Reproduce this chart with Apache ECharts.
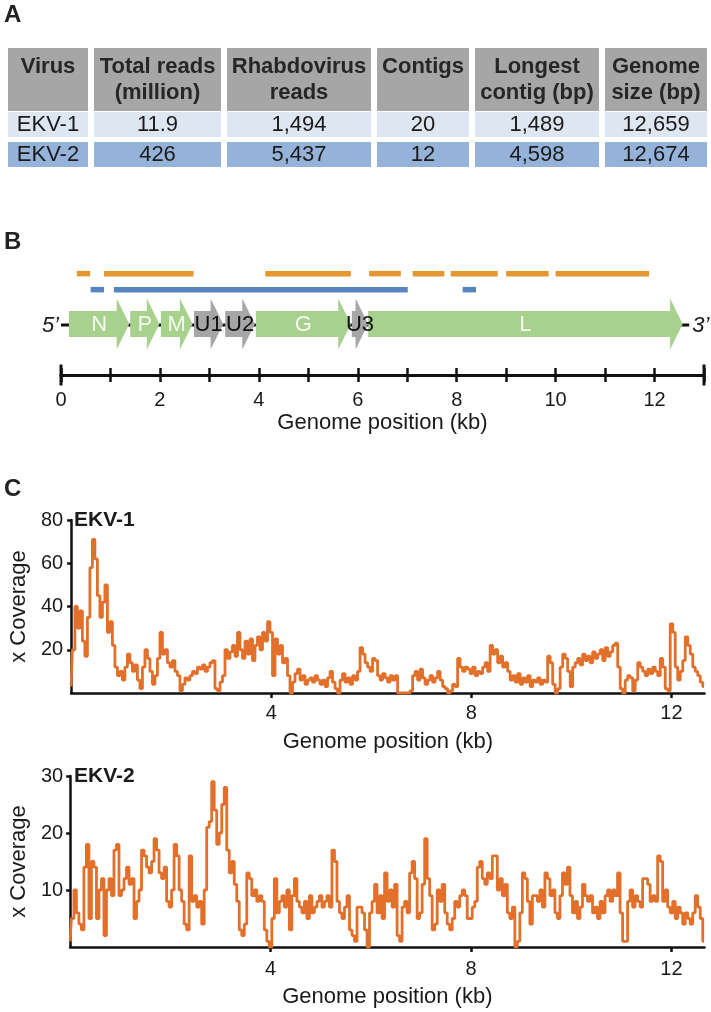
<!DOCTYPE html>
<html><head><meta charset="utf-8">
<script src="https://cdn.jsdelivr.net/npm/echarts@6.0.0/dist/echarts.min.js"></script>
<style>html,body{margin:0;padding:0;background:#fff}#c{width:711px;height:1012px}</style>
</head><body><div id="c"></div>
<script>
// ---------- Panel A: table ----------
const tableHeaders = ['Virus', 'Total reads\n(million)', 'Rhabdovirus\nreads', 'Contigs', 'Longest\ncontig (bp)', 'Genome\nsize (bp)'];
const viruses = ['EKV-1', 'EKV-2'];
const totalReadsMillion = ['11.9', '426'];
const rhabdovirusReads = ['1,494', '5,437'];
const contigCounts = ['20', '12'];
const longestContigBp = ['1,489', '4,598'];
const genomeSizeBp = ['12,659', '12,674'];

// ---------- Panel B: genome map (kb) ----------
const geneNames = ['N', 'P', 'M', 'U1', 'U2', 'G', 'U3', 'L'];
const geneStart = [0.16, 1.40, 2.02, 2.69, 3.32, 3.94, 5.88, 6.21];
const geneEnd = [1.38, 1.99, 2.66, 3.28, 3.92, 5.86, 6.21, 12.57];
const geneKind = ['known', 'known', 'known', 'extra', 'extra', 'known', 'extra', 'known'];
const orangeContigStart = [0.32, 0.87, 4.13, 6.23, 7.11, 7.88, 9.00, 10.00];
const orangeContigEnd = [0.59, 2.68, 5.86, 6.87, 7.75, 8.83, 9.86, 11.89];
const blueContigStart = [0.60, 1.07, 8.12];
const blueContigEnd = [0.87, 7.01, 8.39];
const genomeBackboneKb = [0, 12.70];
const mapAxisMax = 13;
const mapTickLabels = [0, 2, 4, 6, 8, 10, 12];

// ---------- Panel C: coverage ----------
const coverageStepKb = 0.05;
const coverageAxisMaxKb = 12.66;
const coverageTickLabels = [4, 8, 12];
const ekv1Coverage = [
 3,20,40,30,38,24,17,35,58,71,
 62,45,35,42,50,28,33,22,12,8,
 10,6,12,18,14,10,13,6,2,12,
 20,16,10,4,8,16,28,18,20,14,
 12,15,10,8,1,4,7,6,8,10,
 9,12,11,13,10,12,14,15,2,1,
 5,8,20,16,19,22,17,28,20,16,
 24,18,25,15,22,26,20,28,24,33,
 28,8,25,18,22,14,16,8,0,5,
 9,11,6,8,4,6,7,5,8,6,
 4,6,3,7,10,5,2,0,6,9,
 5,7,4,8,6,10,21,18,14,12,
 10,16,15,8,6,9,7,5,8,6,
 8,0,0,0,0,0,1,8,10,6,
 11,7,4,6,8,5,7,10,6,3,
 2,0,1,4,3,16,12,10,12,11,
 9,12,8,10,9,12,14,10,22,18,
 20,14,17,12,14,10,6,8,5,9,
 4,7,5,8,3,6,5,7,4,6,
 5,17,14,4,0,2,12,18,16,10,
 3,12,14,16,13,18,15,17,14,19,
 16,18,20,15,21,17,19,22,23,12,
 2,0,6,8,7,1,6,14,12,10,
 8,11,9,12,10,8,16,12,2,1,
 32,28,12,6,10,15,26,22,18,12,
 10,8,5,3
];
const ekv2Coverage = [
 1,5,10,6,4,3,14,18,5,15,
 14,5,10,12,2,10,12,9,17,18,
 9,10,12,14,11,12,5,8,10,17,
 16,14,13,15,19,17,13,12,14,8,
 7,10,18,16,10,8,4,3,16,8,
 9,7,8,4,10,21,22,29,24,18,
 20,25,28,17,13,15,11,8,3,2,
 4,13,12,9,10,8,9,8,3,1,
 0,5,12,6,8,9,7,10,3,9,
 12,8,7,6,8,5,9,6,7,8,
 9,7,8,9,7,17,15,8,6,5,
 7,9,3,2,1,7,7,6,3,0,
 6,8,11,6,9,5,13,8,10,7,
 11,2,1,7,8,6,13,15,12,5,
 6,11,19,12,9,3,4,10,8,11,
 6,4,3,5,8,7,9,10,9,5,
 5,7,8,14,15,12,11,13,12,16,
 16,10,12,9,11,6,5,7,0,1,
 6,13,12,8,4,9,9,8,10,7,
 13,12,9,10,6,5,9,13,11,14,
 9,6,8,5,7,11,9,8,9,6,
 7,5,8,6,9,10,8,10,9,13,
 6,1,1,8,10,7,9,8,7,12,
 12,11,8,9,8,16,15,8,10,7,
 6,8,5,7,6,4,6,5,4,6,
 9,7,5,1
];

// ---------- styles ----------
const FONT = '"Liberation Sans", Arial, Helvetica, sans-serif';
const INK = '#1a1a1a';
const GREEN = '#a9d18e';
const GRAY = '#a6a6a6';
const ORANGE = '#e6962f';
const BLUE = '#5884c0';
const COV = '#e2702b';
const TRACK = { orange: 9.05, blue: 7.62, genes: 4.55 };

// table layout
const colX = [[8, 88], [94, 221], [227, 371], [377, 469], [475, 599], [605, 707]];
const rowBand = [{ y: 48, h: 63, fill: '#a6a6a6' }, { y: 112, h: 25, fill: '#dde6f1' }, { y: 142, h: 25, fill: '#95b3d9' }];
const tableCols = [viruses, totalReadsMillion, rhabdovirusReads, contigCounts, longestContigBp, genomeSizeBp];

const graphics = [];
['A', 'B', 'C'].forEach((t, i) => {
  graphics.push({ type: 'text', x: 4, y: [15.5, 242, 489.5][i],
    style: { text: t, fill: '#222', fontSize: 24, fontWeight: 'bold', fontFamily: FONT, verticalAlign: 'middle' } });
});
colX.forEach((c, ci) => {
  rowBand.forEach((r, ri) => {
    graphics.push({ type: 'rect', shape: { x: c[0], y: r.y, width: c[1] - c[0], height: r.h }, style: { fill: r.fill } });
  });
  graphics.push({ type: 'text', x: (c[0] + c[1]) / 2, y: 54,
    style: { text: tableHeaders[ci], fill: '#262626', fontSize: 22, fontWeight: 'bold', fontFamily: FONT,
      align: 'center', verticalAlign: 'top', lineHeight: 26 } });
  tableCols[ci].forEach((v, ri) => {
    graphics.push({ type: 'text', x: (c[0] + c[1]) / 2, y: [124.5, 154.5][ri],
      style: { text: v, fill: INK, fontSize: 22, fontFamily: FONT, align: 'center', verticalAlign: 'middle' } });
  });
});
[['EKV-1', 520], ['EKV-2', 776]].forEach(([t, y]) => {
  graphics.push({ type: 'text', x: 74, y: y, z: 100,
    style: { text: t, fill: INK, fontSize: 21, fontWeight: 'bold', fontFamily: FONT, verticalAlign: 'middle' } });
});

function barSeries(starts, ends, level, color) {
  return {
    type: 'custom', xAxisIndex: 0, yAxisIndex: 0, z: 2,
    data: starts.map((s, i) => [s, ends[i]]),
    renderItem: (params, api) => {
      const a = api.coord([api.value(0), level]);
      const b = api.coord([api.value(1), level]);
      return { type: 'rect', shape: { x: a[0], y: a[1] - 2.75, width: b[0] - a[0], height: 5.5 }, style: { fill: color } };
    }
  };
}

const geneData = geneNames.map((n, i) => [geneStart[i], geneEnd[i], i]);

const option = {
  animation: false,
  backgroundColor: '#fff',
  textStyle: { fontFamily: FONT },
  graphic: graphics,
  grid: [
    { left: 61, right: 7, top: 263, height: 112 },
    { left: 62, right: 6.5, top: 520, height: 173 },
    { left: 62, right: 6.5, top: 776, height: 171 }
  ],
  xAxis: [
    { gridIndex: 0, type: 'value', min: 0, max: mapAxisMax, interval: 1, position: 'bottom',
      axisLine: { onZero: false, lineStyle: { color: '#111', width: 3 } },
      axisTick: { length: 7, lineStyle: { color: '#111', width: 2.5 } },
      axisLabel: { fontSize: 20, color: INK, margin: 15, fontFamily: FONT,
        formatter: v => (mapTickLabels.indexOf(v) >= 0 ? String(v) : '') },
      splitLine: { show: false },
      name: 'Genome position (kb)', nameLocation: 'middle', nameGap: 37,
      nameTextStyle: { fontSize: 22, color: INK, fontFamily: FONT } },
    { gridIndex: 0, type: 'value', min: 0, max: mapAxisMax, interval: 1, position: 'top', offset: -112,
      axisLine: { show: false, onZero: false },
      axisTick: { length: 7, lineStyle: { color: '#111', width: 2.5 } },
      axisLabel: { show: false }, splitLine: { show: false } },
    { gridIndex: 1, type: 'value', min: 0, max: coverageAxisMaxKb, interval: 4,
      axisLine: { lineStyle: { color: '#111', width: 2.5 } },
      axisTick: { length: 5, customValues: coverageTickLabels, lineStyle: { color: '#111', width: 2.5 } },
      axisLabel: { fontSize: 20, color: INK, margin: 10, customValues: coverageTickLabels, fontFamily: FONT },
      splitLine: { show: false },
      name: 'Genome position (kb)', nameLocation: 'middle', nameGap: 38,
      nameTextStyle: { fontSize: 22, color: INK, fontFamily: FONT } },
    { gridIndex: 2, type: 'value', min: 0, max: coverageAxisMaxKb, interval: 4,
      axisLine: { lineStyle: { color: '#111', width: 2.5 } },
      axisTick: { length: 5, customValues: coverageTickLabels, lineStyle: { color: '#111', width: 2.5 } },
      axisLabel: { fontSize: 20, color: INK, margin: 12, customValues: coverageTickLabels, fontFamily: FONT },
      splitLine: { show: false },
      name: 'Genome position (kb)', nameLocation: 'middle', nameGap: 39,
      nameTextStyle: { fontSize: 22, color: INK, fontFamily: FONT } }
  ],
  yAxis: [
    { gridIndex: 0, type: 'value', min: 0, max: 10, show: false },
    { gridIndex: 1, type: 'value', min: 0, max: 80, interval: 20,
      axisLine: { show: true, lineStyle: { color: '#111', width: 2.5 } },
      axisTick: { show: true, length: 4, lineStyle: { color: '#111', width: 2.5 } },
      axisLabel: { fontSize: 20, color: INK, margin: 8, showMinLabel: false, fontFamily: FONT },
      splitLine: { show: false },
      name: 'x Coverage', nameLocation: 'middle', nameGap: 38, nameRotate: 90,
      nameTextStyle: { fontSize: 22, color: INK, fontFamily: FONT } },
    { gridIndex: 2, type: 'value', min: 0, max: 30, interval: 10,
      axisLine: { show: true, lineStyle: { color: '#111', width: 2.5 } },
      axisTick: { show: true, length: 4, lineStyle: { color: '#111', width: 2.5 } },
      axisLabel: { fontSize: 20, color: INK, margin: 7, showMinLabel: false, fontFamily: FONT },
      splitLine: { show: false },
      name: 'x Coverage', nameLocation: 'middle', nameGap: 38, nameRotate: 90,
      nameTextStyle: { fontSize: 22, color: INK, fontFamily: FONT } }
  ],
  series: [
    { type: 'custom', xAxisIndex: 0, yAxisIndex: 0, z: 1,
      data: [genomeBackboneKb],
      renderItem: (params, api) => {
        const a = api.coord([api.value(0), TRACK.genes]);
        const b = api.coord([api.value(1), TRACK.genes]);
        return { type: 'group', children: [
          { type: 'line', shape: { x1: a[0], y1: a[1] + 1, x2: b[0], y2: b[1] + 1 }, style: { stroke: '#111', lineWidth: 3 } },
          { type: 'text', x: a[0] - 2, y: a[1] + 2, style: { text: '5\u2019', fill: INK, fontSize: 22, fontStyle: 'italic', fontFamily: FONT, align: 'right', verticalAlign: 'middle' } },
          { type: 'text', x: b[0] + 3, y: b[1] + 2, style: { text: '3\u2019', fill: INK, fontSize: 22, fontStyle: 'italic', fontFamily: FONT, align: 'left', verticalAlign: 'middle' } }
        ] };
      } },
    barSeries(orangeContigStart, orangeContigEnd, TRACK.orange, ORANGE),
    barSeries(blueContigStart, blueContigEnd, TRACK.blue, BLUE),
    { type: 'custom', xAxisIndex: 0, yAxisIndex: 0, z: 3,
      data: geneData,
      renderItem: (params, api) => {
        const i = api.value(2);
        const a = api.coord([api.value(0), TRACK.genes]);
        const b = api.coord([api.value(1), TRACK.genes]);
        const y = a[1], x0 = a[0], x1 = b[0];
        const hb = 13, hh = 25.5, hl = 12.6;
        const xs = Math.max(x0, x1 - hl);
        return { type: 'polygon',
          shape: { points: [[x0, y - hb], [xs, y - hb], [xs, y - hh], [x1, y], [xs, y + hh], [xs, y + hb], [x0, y + hb]] },
          style: { fill: geneKind[i] === 'known' ? GREEN : GRAY } };
      } },
    { type: 'custom', xAxisIndex: 0, yAxisIndex: 0, z: 4,
      data: geneData,
      renderItem: (params, api) => {
        const i = api.value(2);
        const a = api.coord([api.value(0), TRACK.genes]);
        const b = api.coord([api.value(1), TRACK.genes]);
        return { type: 'text', x: (a[0] + b[0]) / 2, y: a[1] + 1,
          style: { text: geneNames[i], fill: geneKind[i] === 'known' ? '#f4f8f0' : '#111', fontSize: 22, fontFamily: FONT,
            align: 'center', verticalAlign: 'middle' } };
      } },
    { type: 'custom', xAxisIndex: 0, yAxisIndex: 0, z: 5,
      data: [[0], [mapAxisMax]],
      renderItem: (params, api) => {
        const p = api.coord([api.value(0), 0]);
        return { type: 'line', shape: { x1: p[0], y1: p[1] - 10.5, x2: p[0], y2: p[1] + 10.5 }, style: { stroke: '#111', lineWidth: 3 } };
      } },
    { type: 'line', xAxisIndex: 2, yAxisIndex: 1, step: 'middle', showSymbol: false, symbol: 'none',
      lineStyle: { color: COV, width: 2.8 }, itemStyle: { color: COV },
      data: ekv1Coverage.map((v, i) => [+(i * coverageStepKb).toFixed(2), v]) },
    { type: 'line', xAxisIndex: 3, yAxisIndex: 2, step: 'middle', showSymbol: false, symbol: 'none',
      lineStyle: { color: COV, width: 2.8 }, itemStyle: { color: COV },
      data: ekv2Coverage.map((v, i) => [+(i * coverageStepKb).toFixed(2), v]) }
  ]
};

const chart = echarts.init(document.getElementById('c'), null, { renderer: 'canvas' });
chart.setOption(option);
</script>
</body></html>
